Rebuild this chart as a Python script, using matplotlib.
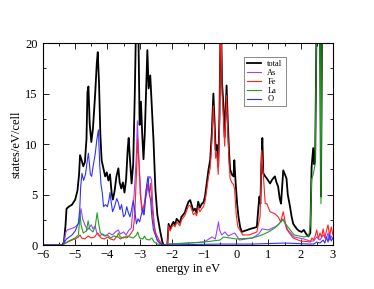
import matplotlib
matplotlib.use("Agg")
import matplotlib.pyplot as plt
from matplotlib.ticker import MultipleLocator

plt.rcParams['font.family'] = ['Liberation Serif', 'DejaVu Serif']

# total DOS
total_e = [-6.0, -5.4, -5.35, -5.3, -5.27, -5.2, -5.1, -5.0, -4.93, -4.88, -4.85, -4.8, -4.75, -4.7,
           -4.65, -4.62, -4.59, -4.55, -4.5, -4.45, -4.38, -4.33, -4.3, -4.26, -4.22, -4.18, -4.12,
           -4.07, -4.02, -3.97, -3.92, -3.87, -3.83, -3.78, -3.72, -3.66, -3.62, -3.57, -3.52, -3.47,
           -3.42, -3.37, -3.34, -3.3, -3.25, -3.2, -3.15, -3.1, -3.05, -3.0, -2.96, -2.92, -2.88, -2.84,
           -2.8, -2.76, -2.72, -2.67, -2.62, -2.57, -2.51, -2.45, -2.37, -2.3, -2.26, -2.14, -2.12, -2.1,
           -2.05, -2.0, -1.95, -1.9, -1.85, -1.8, -1.75, -1.7, -1.6, -1.54, -1.48, -1.43, -1.38, -1.33,
           -1.28, -1.23, -1.18, -1.13, -1.07, -1.02, -0.97, -0.92, -0.86, -0.81, -0.76, -0.71, -0.67,
           -0.64, -0.6, -0.56, -0.52, -0.48, -0.44, -0.4, -0.36, -0.3, -0.26, -0.22, -0.19, -0.14, -0.085,
           -0.06, -0.02, 0.03, 0.07, 0.12, 0.17, 0.25, 0.35, 0.43, 0.55, 0.64, 0.69, 0.72, 0.75, 0.78,
           0.81, 0.84, 0.9, 0.97, 1.05, 1.12, 1.2, 1.25, 1.3, 1.35, 1.39, 1.43, 1.46, 1.51, 1.56, 1.6,
           1.67, 1.72, 1.77, 1.88, 1.95, 2.03, 2.1, 2.17, 2.24, 2.3, 2.34, 2.39, 2.42, 2.45, 2.5, 2.6,
           2.63, 2.67, 3.0]
total_v = [0, 0, 0.3, 2.0, 3.6, 3.8, 4.0, 4.5, 5.4, 7.0, 8.9, 8.4, 7.8, 8.2,
           10.5, 15.1, 15.7, 12.0, 10.2, 11.5, 15.0, 18.0, 19.1, 16.0, 11.0, 8.4, 7.5,
           6.8, 7.2, 6.4, 7.0, 5.2, 4.5, 5.3, 6.8, 7.6, 6.2, 5.6, 6.2, 5.2,
           6.5, 9.5, 10.6, 8.5, 6.1, 8.0, 15.0, 24, 24, 11.9, 14.2, 11.0, 8.5, 11.0,
           15.0, 19.3, 15.5, 16.8, 13.5, 10.4, 5.5, 3.0, 1.5, 0.4, 0, 0, 1.0, 2.1,
           1.6, 2.0, 2.3, 2.0, 2.6, 2.4, 2.2, 2.8, 3.2, 3.8, 4.3, 4.45, 3.9, 3.4,
           3.6, 3.2, 4.3, 3.7, 4.1, 4.2, 4.8, 6.0, 7.5, 8.4, 11.0, 15.0, 12.0,
           9.4, 9.9, 7.8, 13.0, 24, 16.0, 14.0, 10.7, 15.8, 12.0, 9.0, 7.5, 7.0, 6.8,
           8.4, 6.2, 4.0, 2.8, 1.8, 1.3, 1.4, 1.5, 1.6, 1.7, 1.8, 3.8, 4.8, 4.1, 8.0,
           10.6, 7.1, 6.8, 6.5, 6.1, 6.5, 6.8, 6.2, 5.8, 4.6, 4.1, 6.0, 7.4, 7.0, 6.6, 5.0,
           3.8, 2.8, 2.1, 1.6, 1.4, 1.3, 1.5, 1.1, 0.85, 1.2, 7.75, 9.6, 8.0, 8.2, 24, 24,
           4.8, 24, 24]

# As
as_e = [-6.0, -5.4, -5.35, -5.3, -5.25, -5.1, -5.0, -4.9, -4.85, -4.82, -4.77, -4.7, -4.62, -4.55,
        -4.5, -4.45, -4.38, -4.33, -4.25, -4.15, -4.05, -3.95, -3.85, -3.75, -3.66, -3.6, -3.5, -3.42,
        -3.35, -3.26, -3.2, -3.15, -3.1, -3.07, -3.03, -2.98, -2.94, -2.88, -2.82, -2.76, -2.72, -2.68,
        -2.63, -2.59, -2.52, -2.45, -2.35, -2.25, -2.1, -1.5, -1.0, -0.75, -0.65, -0.55, -0.52, -0.45,
        -0.35, -0.25, -0.05, 0.1, 0.5, 0.7, 0.8, 1.0, 1.2, 1.3, 1.45, 1.6, 1.8, 2.1, 2.3, 2.4, 2.5,
        2.6, 2.7, 2.8, 2.85, 2.9, 2.95, 3.0]
as_v = [0, 0, 0.3, 1.2, 1.5, 1.65, 1.8, 2.1, 3.0, 3.6, 2.6, 2.0, 1.5, 1.8,
        2.0, 1.6, 1.9, 1.2, 0.9, 1.1, 0.9, 1.2, 1.0, 1.3, 1.5, 1.1, 1.3, 1.0,
        1.4, 1.7, 3.8, 6.0, 9.0, 12.3, 9.0, 6.0, 3.5, 3.0, 4.5, 5.5, 6.5, 6.8,
        6.5, 3.8, 1.2, 0.4, 0.1, 0.0, 0.1, 0.2, 0.3, 0.8, 0.6, 2.3, 1.5, 1.0,
        1.3, 0.9, 1.2, 0.5, 0.7, 1.1, 1.6, 1.5, 1.8, 2.0, 2.6, 1.5, 0.8, 0.6, 0.4, 0.4, 0.8,
        0.5, 1.0, 0.6, 1.2, 0.5, 0.9, 0.6]

# Fe
fe_e = [-6.0, -5.4, -5.3, -5.2, -5.1, -5.0, -4.9, -4.85, -4.8, -4.7, -4.6, -4.5, -4.4, -4.3, -4.2,
        -4.1, -4.0, -3.9, -3.8, -3.7, -3.6, -3.5, -3.4, -3.3, -3.2, -3.15, -3.1, -3.06, -3.02, -2.98,
        -2.94, -2.9, -2.85, -2.8, -2.75, -2.7, -2.66, -2.62, -2.57, -2.5, -2.4, -2.3, -2.25, -2.14,
        -2.12, -2.1, -2.05, -2.0, -1.95, -1.9, -1.85, -1.8, -1.75, -1.7, -1.6, -1.54, -1.48, -1.43,
        -1.38, -1.33, -1.28, -1.23, -1.18, -1.13, -1.07, -1.02, -0.97, -0.92, -0.86, -0.81, -0.76,
        -0.71, -0.67, -0.64, -0.6, -0.56, -0.52, -0.48, -0.44, -0.4, -0.36, -0.3, -0.26, -0.22, -0.19,
        -0.14, -0.085, -0.05, 0.0, 0.05, 0.13, 0.2, 0.4, 0.64, 0.69, 0.74, 0.79, 0.9, 0.95, 1.05, 1.2,
        1.3, 1.38, 1.46, 1.56, 1.67, 1.77, 2.0, 2.2, 2.3, 2.35, 2.4, 2.45, 2.5, 2.55, 2.6, 2.65, 2.7,
        2.75, 2.8, 2.85, 2.9, 2.95, 3.0]
fe_v = [0, 0, 0.2, 0.35, 0.5, 0.6, 0.8, 1.0, 0.7, 0.6, 0.9, 0.7, 0.8, 1.2, 0.7,
        0.6, 0.8, 0.6, 0.5, 0.9, 0.6, 0.8, 0.7, 1.0, 1.5, 3.0, 7.0, 10.5, 8.0, 5.0,
        4.0, 3.5, 4.2, 5.5, 6.0, 5.2, 6.1, 4.0, 2.2, 1.2, 0.5, 0.1, 0, 0,
        0.9, 1.9, 1.4, 1.8, 2.0, 1.8, 2.3, 2.1, 1.9, 2.5, 2.9, 3.4, 3.9, 3.9,
        3.5, 3.0, 3.2, 2.9, 3.8, 3.3, 3.6, 3.8, 4.3, 5.4, 6.8, 7.6, 10.2, 13.8, 11.2,
        8.6, 9.1, 7.0, 12.0, 24, 15.0, 12.8, 9.8, 14.8, 11.0, 8.0, 6.6,
        6.2, 6.0, 5.5, 3.0, 1.8, 1.4, 1.0, 1.0, 1.3, 2.1, 2.8, 9.4, 4.1, 4.1, 3.3, 3.1,
        2.8, 2.3, 3.3, 1.6, 1.1, 0.7, 0.4, 0.35, 0.3, 0.7, 0.5, 0.9, 1.5, 0.6, 1.2, 0.8, 1.6,
        0.7, 1.4, 2.0, 0.9, 1.8, 1.0]

# La
la_e = [-6.0, -5.4, -5.3, -5.2, -5.0, -4.9, -4.87, -4.85, -4.82, -4.75, -4.65, -4.6, -4.55, -4.45,
        -4.38, -4.32, -4.28, -4.22, -4.1, -4.0, -3.9, -3.8, -3.7, -3.66, -3.6, -3.5, -3.4, -3.3, -3.2,
        -3.1, -3.06, -3.0, -2.9, -2.85, -2.8, -2.7, -2.62, -2.55, -2.45, -2.3, -2.1, -1.5, -1.0, -0.5,
        -0.4, 0.0, 0.5, 0.8, 1.0, 1.2, 1.3, 1.45, 1.6, 1.8, 2.1, 2.25, 2.3, 2.34, 2.39, 2.45, 2.5,
        2.6, 2.63, 2.67, 3.0]
la_v = [0, 0, 0.2, 0.4, 0.7, 1.0, 2.2, 3.2, 2.0, 1.2, 1.4, 2.4, 1.6, 1.3,
        1.8, 3.2, 2.3, 1.2, 0.9, 1.0, 0.7, 0.9, 0.8, 1.2, 0.8, 0.7, 0.9, 0.8, 0.7,
        1.0, 1.3, 0.7, 0.6, 0.9, 0.6, 0.5, 0.7, 0.3, 0.1, 0.0, 0.1, 0.2, 0.3, 0.5,
        0.8, 0.6, 0.7, 1.0, 1.3, 1.7, 2.0, 2.5, 1.8, 1.0, 0.8, 0.9, 2.0, 6.5, 7.0, 8.0, 24,
        24, 4.1, 24, 24]

# O
o_e = [-6.0, -5.4, -5.33, -5.27, -5.1, -5.0, -4.9, -4.86, -4.83, -4.79, -4.74, -4.68, -4.62, -4.59,
       -4.53, -4.49, -4.45, -4.38, -4.33, -4.28, -4.24, -4.2, -4.16, -4.12, -4.06, -4.0, -3.95, -3.92,
       -3.88, -3.84, -3.78, -3.71, -3.66, -3.61, -3.56, -3.5, -3.45, -3.4, -3.35, -3.3, -3.25, -3.2,
       -3.15, -3.1, -3.05, -3.0, -2.95, -2.9, -2.86, -2.82, -2.78, -2.74, -2.7, -2.66, -2.62, -2.57,
       -2.5, -2.45, -2.37, -2.3, -2.2, -1.5, -0.5, 0.5, 1.5, 2.3, 2.4, 2.5, 2.6, 2.7, 2.75, 2.8, 2.85,
       2.9, 2.95, 3.0]
o_v = [0, 0, 0.3, 0.6, 1.0, 1.4, 2.2, 3.5, 5.8, 7.1, 6.4, 7.0, 8.5, 9.1,
       7.0, 6.8, 7.7, 9.0, 10.4, 11.4, 8.0, 6.0, 5.2, 3.8, 4.0, 3.8, 4.5, 5.2,
       4.2, 3.3, 3.8, 4.6, 4.2, 3.5, 4.0, 2.8, 3.0, 3.8, 3.2, 2.8, 3.5, 4.4,
       3.4, 2.1, 2.6, 2.3, 3.0, 3.6, 3.0, 4.5, 6.0, 6.8, 5.0, 4.5, 2.8, 1.5,
       0.9, 0.5, 0.2, 0.05, 0.0, 0.05, 0.1, 0.1, 0.2, 0.1, 0.1, 0.3, 0.2, 0.5, 0.2, 0.8, 0.3,
       1.0, 0.4, 0.7]

fig = plt.figure(figsize=(3.74, 2.89), dpi=100)
ax = fig.add_axes([0.115, 0.152, 0.775, 0.699])

ax.plot(total_e, total_v, color='black', lw=1.3, label='total')
ax.plot(as_e, as_v, color='#a040ff', lw=0.8, label='As')
ax.plot(fe_e, fe_v, color='#ff2020', lw=0.8, label='Fe')
ax.plot(la_e, la_v, color='#20a020', lw=0.8, label='La')
ax.plot(o_e, o_v, color='#3030ff', lw=0.8, label='O')

ax.set_xlim(-6, 3)
ax.set_ylim(0, 20)
ax.xaxis.set_major_locator(MultipleLocator(1))
ax.xaxis.set_minor_locator(MultipleLocator(0.5))
ax.yaxis.set_major_locator(MultipleLocator(5))
ax.yaxis.set_minor_locator(MultipleLocator(2.5))
ax.tick_params(which='both', direction='in', top=True, right=True, labelsize=9)
ax.tick_params(axis='x', pad=3)
ax.tick_params(axis='y', pad=4)
ax.tick_params(which='major', length=4, width=0.6)
ax.tick_params(which='minor', length=2.5, width=0.6)
for s in ax.spines.values():
    s.set_linewidth(0.8)

ax.set_xlabel('energy in eV', fontsize=9, labelpad=1)
ax.set_ylabel('states/eV/cell', fontsize=9, labelpad=2)

leg = ax.legend(loc='upper left', bbox_to_anchor=(0.695, 0.93), fontsize=6, frameon=True,
                fancybox=False, edgecolor='#555555', handlelength=1.6, handletextpad=0.8,
                labelspacing=0.1, borderpad=0.35, borderaxespad=0)
leg.get_frame().set_linewidth(0.6)

fig.savefig('out.png', dpi=100)
